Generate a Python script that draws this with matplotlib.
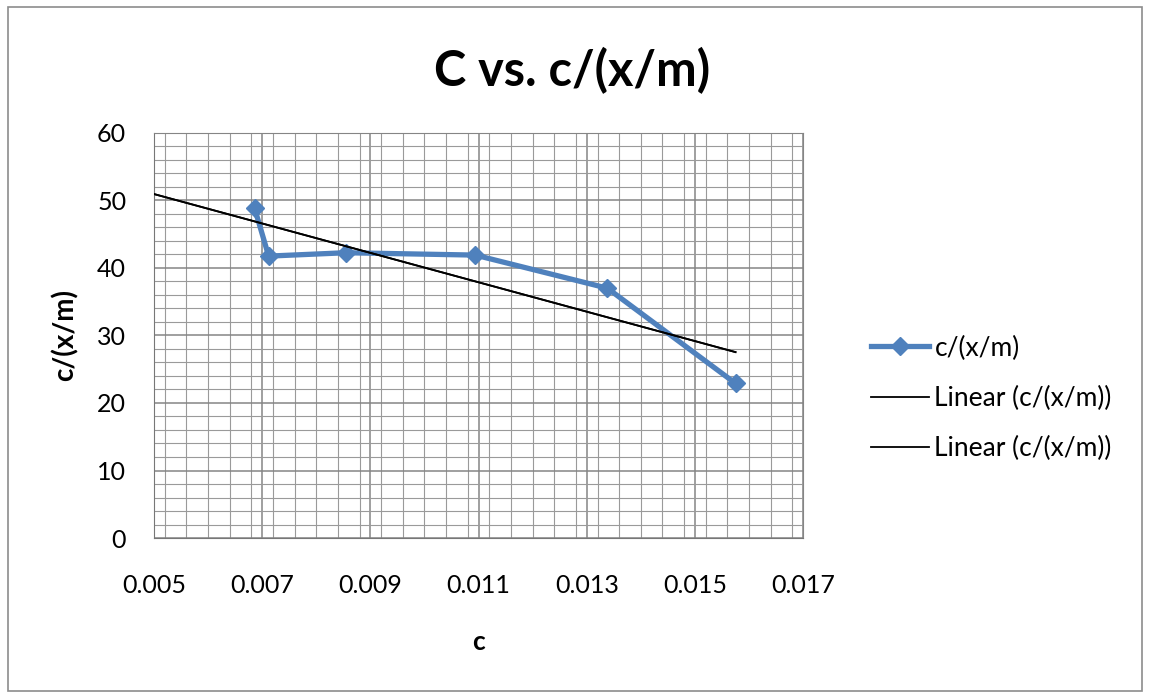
import numpy as np
import matplotlib.pyplot as plt
from matplotlib.patches import Rectangle
from matplotlib.ticker import MultipleLocator

plt.rcParams['font.family'] = ['Lato', 'DejaVu Sans']

# concentration c and c/(x/m)
conc = [0.00686, 0.00712, 0.00855, 0.01094, 0.01338, 0.01575]
ratio = [48.85, 41.75, 42.25, 41.9, 37.0, 22.9]

x_ticks = [0.005, 0.007, 0.009, 0.011, 0.013, 0.015, 0.017]
x_tick_labels = ['0.005', '0.007', '0.009', '0.011', '0.013', '0.015', '0.017']
y_ticks = [0, 10, 20, 30, 40, 50, 60]

fig = plt.figure(figsize=(11.49, 6.92), dpi=100)
ax = fig.add_axes([0.134, 0.2225, 0.565, 0.5855])

# least squares trendline, forecast back to the axis start
slope, icept = np.polyfit(conc, ratio, 1)
tx = np.array([0.005, max(conc)])

ax.plot(conc, ratio, color='#4F81BD', lw=3.8, marker='D', ms=9,
        label='c/(x/m)', zorder=3)
ax.plot(tx, slope * tx + icept, color='black', lw=1.3, label='Linear (c/(x/m))', zorder=4)
ax.plot(tx, slope * tx + icept, color='black', lw=1.3, label='Linear (c/(x/m))', zorder=4)

ax.set_xlim(0.005, 0.017)
ax.set_ylim(0, 60)
ax.set_xticks(x_ticks)
ax.set_xticklabels(x_tick_labels)
ax.set_yticks(y_ticks)
ax.xaxis.set_minor_locator(MultipleLocator(0.0004))
ax.yaxis.set_minor_locator(MultipleLocator(2))

ax.grid(which='major', color='#858585', lw=1.1)
ax.grid(which='minor', color='#9a9a9a', lw=0.8)
ax.set_axisbelow(True)
ax.tick_params(which='both', length=0)
ax.tick_params(axis='x', pad=26, labelsize=18)
ax.tick_params(axis='y', pad=20, labelsize=18)
for s in ax.spines.values():
    s.set_color('#858585')
ax.spines['left'].set_color('#777777')
ax.spines['bottom'].set_color('#777777')

fig.text(0.498, 0.898, 'C vs. c/(x/m)', fontsize=35, fontweight='bold',
         ha='center', va='center')
ax.set_xlabel('c', fontsize=19, fontweight='bold', labelpad=24)
ax.set_ylabel('c/(x/m)', fontsize=20, fontweight='bold', labelpad=13)

leg = ax.legend(loc='center left', bbox_to_anchor=(1.068, 0.345), frameon=False,
                fontsize=19, handlelength=2.2, handletextpad=0.2, labelspacing=0.95)

# chart border
fig.patches.append(Rectangle((8 / 1149, 1 / 692), 1134 / 1149, 684 / 692,
                             transform=fig.transFigure, fill=False,
                             edgecolor='#8c8c8c', lw=1.2))

fig.savefig('out.png', dpi=100)
